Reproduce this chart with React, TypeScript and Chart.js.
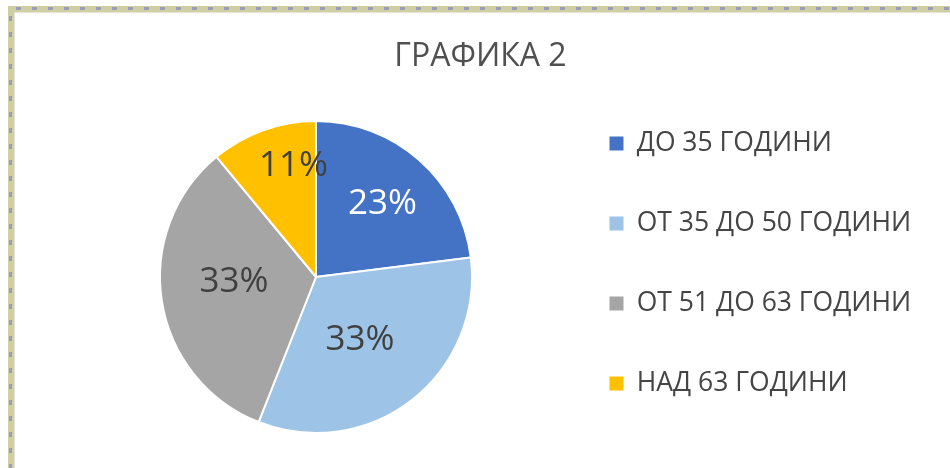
import React, { useEffect, useRef } from 'react';
import { Chart, registerables } from 'chart.js';

Chart.register(...registerables);

const chartTitle = 'ГРАФИКА 2';
const categories = ['ДО 35 ГОДИНИ', 'ОТ 35 ДО 50 ГОДИНИ', 'ОТ 51 ДО 63 ГОДИНИ', 'НАД 63 ГОДИНИ'];
const shares = [23, 33, 33, 11];
const sliceColors = ['#4472C4', '#9DC3E6', '#A5A5A5', '#FFC000'];
const labelColors = ['#FFFFFF', '#404040', '#404040', '#404040'];

const FONT = "'Open Sans', 'Noto Sans', sans-serif";

const framePlugin = {
  id: 'frame',
  beforeDraw(chart: any) {
    const { ctx, width, height } = chart;
    ctx.save();
    ctx.fillStyle = '#ffffff';
    ctx.fillRect(0, 0, width, height);
    ctx.fillStyle = '#D0CFA2';
    ctx.fillRect(8, 6, width - 8, 6);
    ctx.fillRect(8, 6, 6, height - 6);
    ctx.fillStyle = '#9C9DB9';
    for (let x = 16; x < width; x += 16) ctx.fillRect(x, 7, 5, 3);
    for (let y = 16; y < height; y += 16) ctx.fillRect(9, y, 3, 5);
    ctx.fillStyle = '#E4E4DA';
    ctx.fillRect(14, 12, width - 14, 1);
    ctx.fillRect(14, 12, 1, height - 12);
    ctx.restore();
  },
};

const pctLabelsPlugin = {
  id: 'pctLabels',
  afterDatasetsDraw(chart: any, _args: any, opts: any) {
    const ctx = chart.ctx;
    const meta = chart.getDatasetMeta(0);
    const data = chart.data.datasets[0].data as number[];
    const total = data.reduce((a, b) => a + b, 0);
    ctx.save();
    ctx.font = `${opts.size}px ${FONT}`;
    ctx.textAlign = 'center';
    ctx.textBaseline = 'middle';
    meta.data.forEach((el: any, i: number) => {
      const { x, y, startAngle, endAngle, outerRadius } = el.getProps(
        ['x', 'y', 'startAngle', 'endAngle', 'outerRadius'],
        true
      );
      const p = opts.place[i] || { r: 0.6, a: 0.5 };
      const ang = startAngle + (endAngle - startAngle) * p.a;
      const r = outerRadius * p.r;
      ctx.fillStyle = opts.colors[i];
      ctx.fillText(Math.round((data[i] / total) * 100) + '%', x + Math.cos(ang) * r, y + Math.sin(ang) * r);
    });
    ctx.restore();
  },
};

export default function App() {
  const ref = useRef<HTMLCanvasElement | null>(null);

  useEffect(() => {
    if (!ref.current) return;
    const chart = new Chart(ref.current, {
      type: 'pie',
      data: {
        labels: categories,
        datasets: [
          {
            data: shares,
            backgroundColor: sliceColors,
            borderColor: '#FFFFFF',
            borderWidth: 2,
          },
        ],
      },
      plugins: [framePlugin, pctLabelsPlugin],
      options: {
        responsive: false,
        animation: false,
        events: [],
        radius: 156,
        layout: { padding: { left: 43, right: 32, top: 0, bottom: 0 } },
        plugins: {
          tooltip: { enabled: false },
          title: {
            display: true,
            text: chartTitle,
            color: '#505050',
            font: { family: FONT, size: 32, weight: 'normal' },
            padding: { top: 37.8, bottom: 9.8 },
          },
          subtitle: {
            display: true,
            position: 'left',
            text: ' ',
            font: { family: FONT, size: 12 },
            padding: { top: 18.6, bottom: 0 },
          },
          legend: {
            position: 'right',
            align: 'center',
            maxWidth: 362,
            title: {
              display: true,
              text: ' ',
              font: { family: FONT, size: 12 },
              padding: { top: 44.6, bottom: 0 },
            },
            labels: {
              boxWidth: 14,
              boxHeight: 14,
              padding: 53.5,
              color: '#454545',
              font: { family: FONT, size: 26.5 },
              generateLabels: (c: any) =>
                (c.data.labels as string[]).map((l, i) => ({
                  text: l,
                  fillStyle: sliceColors[i],
                  strokeStyle: sliceColors[i],
                  lineWidth: 0,
                  hidden: false,
                  index: i,
                  fontColor: '#454545',
                })),
            },
          },
          pctLabels: {
            size: 35,
            colors: labelColors,
            place: [
              { r: 0.63, a: 0.513 },
              { r: 0.49, a: 0.523 },
              { r: 0.527, a: 0.544 },
              { r: 0.723, a: 0.71 },
            ],
          },
        } as any,
      } as any,
    });
    return () => chart.destroy();
  }, []);

  return (
    <div style={{ position: 'absolute', left: 0, top: 0, width: 950, height: 468 }}>
      <canvas ref={ref} width={950} height={468} style={{ width: 950, height: 468, display: 'block' }} />
    </div>
  );
}
